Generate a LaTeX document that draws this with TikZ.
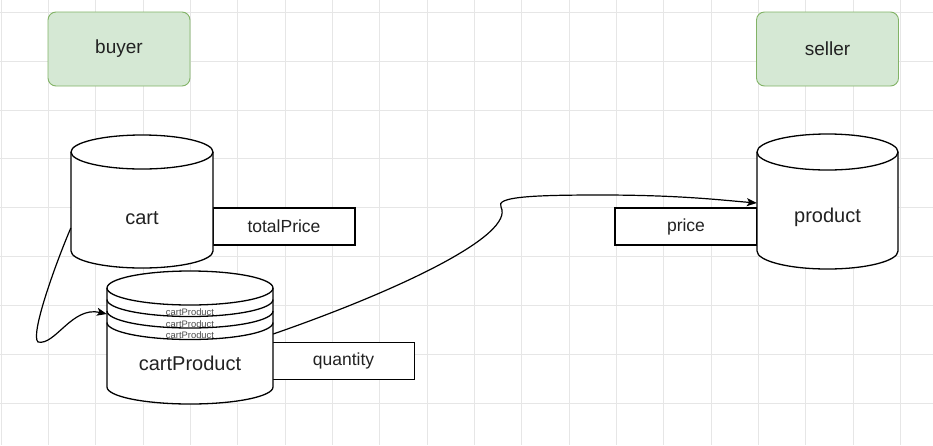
\documentclass[tikz,border=0pt]{standalone}
\usepackage{fontspec}
\setmainfont{Liberation Sans}
\usetikzlibrary{arrows.meta}
\definecolor{gridc}{HTML}{E6E6E6}
\definecolor{greenfill}{HTML}{D5E8D4}
\definecolor{greenline}{HTML}{82B366}
\definecolor{txt}{HTML}{222222}
\tikzset{
  gridline/.style={draw=gridc, line width=1pt},
  role/.style={draw=greenline, fill=greenfill, rounded corners=8pt, line width=0.9pt,
    minimum width=142pt, minimum height=74pt, inner sep=0pt, text=txt,
    font=\fontsize{19}{22}\selectfont},
  cyl/.style={draw=black, fill=white, line width=1.3pt},
  cylline/.style={draw=black, line width=1.3pt},
  body/.style={draw=none, inner sep=0pt},
  cyltext/.style={inner sep=0pt, text=txt, font=\fontsize{20}{24}\selectfont},
  smalltext/.style={inner sep=0pt, text=black!70, font=\fontsize{9.4}{11}\selectfont},
  attr/.style={draw=black, fill=white, line width=1.3pt, inner sep=0pt,
    minimum width=142pt, minimum height=37pt, text=txt,
    font=\fontsize{17.5}{20}\selectfont},
  conn/.style={draw=black, line width=1.2pt, -{Stealth[length=10pt,width=8pt,inset=2.5pt]}}
}
% x1 yt x2 yb dy
\newcommand\cylbody[5]{%
  \pgfmathsetmacro\cylrx{(#3-#1)/2}%
  \filldraw[cyl] (#1,{#4-#5}) arc[start angle=180,end angle=360,x radius=\cylrx pt,y radius=#5pt]
     -- (#3,{#2+#5}) arc[start angle=0,end angle=180,x radius=\cylrx pt,y radius=#5pt] -- cycle;
  \draw[cylline] (#1,{#2+#5}) arc[start angle=180,end angle=360,x radius=\cylrx pt,y radius=#5pt];
}
\begin{document}
\begin{tikzpicture}[x=1pt,y=-1pt]
\useasboundingbox (0,0) rectangle (933,445);
\fill[white] (0,0) rectangle (933,445);
% grid
\foreach \k in {0,...,19} \draw[gridline] ({1+47.35*\k},0) -- ({1+47.35*\k},445);
\foreach \k in {0,...,8} \draw[gridline] (0,{12.3+48.85*\k}) -- (933,{12.3+48.85*\k});

% roles
\node[role] (buyer) at (119,49) {buyer};
\node[role] (seller) at (827.5,49) {seller};

% attribute boxes
\node[attr] (totalPrice) at (284,226.5) {totalPrice};
\node[attr] (quantity) at (343.5,361) {quantity};
\node[attr] (price) at (686,226.5) {price};

% cart cylinder
\cylbody{71}{135}{213}{268}{17}
\node[body, minimum width=142pt, minimum height=133pt] (cart) at (142,201.5) {};
\node[cyltext] (cartT) at (142,218) {cart};

% cartProduct stacked cylinder
\cylbody{107}{271}{273}{404}{17}
\draw[cylline] (107,299.5) arc[start angle=180,end angle=360,x radius=83pt,y radius=17pt];
\draw[cylline] (107,311) arc[start angle=180,end angle=360,x radius=83pt,y radius=17pt];
\draw[cylline] (107,322.5) arc[start angle=180,end angle=360,x radius=83pt,y radius=17pt];
\node[body, minimum width=166pt, minimum height=133pt] (cartProduct) at (190,337.5) {};
\node[smalltext] (s1) at (190,312.5) {cartProduct};
\node[smalltext] (s2) at (190,324) {cartProduct};
\node[smalltext] (s3) at (190,335.5) {cartProduct};
\node[cyltext] (cartProductT) at (190,363) {cartProduct};

% product cylinder
\cylbody{757}{134}{898}{269}{18}
\node[body, minimum width=141pt, minimum height=135pt] (product) at (827.5,201.5) {};
\node[cyltext] (productT) at (827.5,217) {product};

% connectors
\coordinate (w1) at (38,342);
\draw[conn] ([yshift=-26.5pt]cart.west) .. controls (55,265) and (30,335) .. (w1)
   .. controls (55,346) and (72,306) .. ([yshift=23.5pt]cartProduct.west);

\coordinate (w2) at (501,207);
\coordinate (w3) at (600,195);
\draw[conn] ([yshift=3.5pt]cartProduct.east) .. controls (400,290) and (515,235) .. (w2)
   .. controls (495,197) and (530,195) .. (w3)
   .. controls (680,195) and (720,200) .. ([yshift=-1.5pt]product.west);
\end{tikzpicture}
\end{document}
